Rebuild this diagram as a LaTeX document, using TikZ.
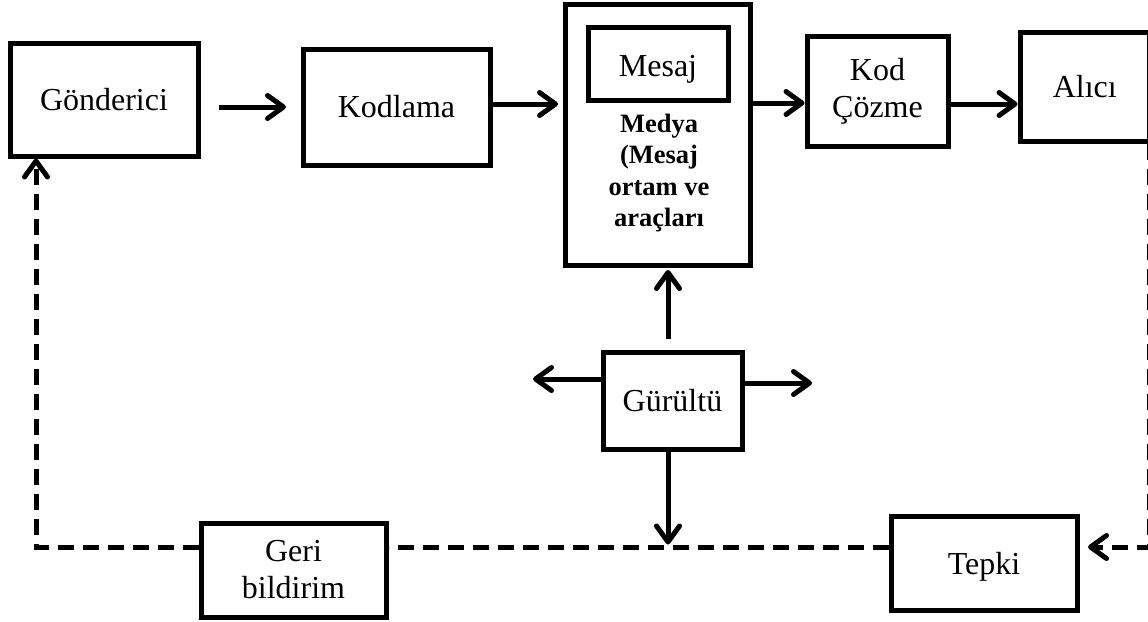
\documentclass[tikz,border=0pt]{standalone}
\usepackage{fontspec}
\setmainfont{Liberation Serif}
\usetikzlibrary{arrows.meta}
\begin{document}
\begin{tikzpicture}[x=1pt,y=-1pt,
  >={Straight Barb[length=16pt,width=23pt,round]},
  every node/.style={font=\fontsize{32}{37}\selectfont},
  blk/.style={draw, line width=5pt, inner sep=0pt, align=center},
  arr/.style={line width=5pt, ->},
  fb/.style={line width=5pt, dash pattern=on 16pt off 9pt},
  boldtxt/.style={font=\fontsize{26.5}{31.5}\selectfont\bfseries, align=center, inner sep=0pt},
]
\useasboundingbox (0,0) rectangle (1148,621);
\clip (0,0) rectangle (1148,621);
\fill[white] (0,0) rectangle (1148,621);

% boxes of the communication chain
\node[blk, minimum width=188pt, minimum height=113pt] (gond) at (104,99.5) {Gönderici};
\node[blk, minimum width=187pt, minimum height=116pt] (kod) at (396.5,107) {Kodlama};
\node[blk, minimum width=185pt, minimum height=261pt] (medya) at (658,135) {};
\node[blk, minimum width=140pt, minimum height=73pt, text height=33pt, text depth=6.7pt] (mesaj) at (658,63.5) {Mesaj};
\node[boldtxt] (medyatxt) at (659,173) {Medya\\(Mesaj\\ortam ve\\araçları};
\node[blk, minimum width=141pt, minimum height=110pt] (kc) at (877.5,91) {Kod\\Çözme};
\node[blk, minimum width=129.5pt, minimum height=109pt] (alici) at (1084.75,86.5) {Alıcı};
\node[blk, minimum width=139pt, minimum height=97pt] (gur) at (672.5,400.5) {Gürültü};
\node[blk, minimum width=185pt, minimum height=94pt] (geri) at (293.5,570) {Geri\\bildirim};
\node[blk, minimum width=186pt, minimum height=94pt, text depth=0pt] (tepki) at (984,563) {Tepki};

% free ends and corners
\coordinate (fbR) at (1149.5,547);
\coordinate (fbL) at (36,547);
\coordinate (nzL) at (533,379);
\coordinate (nzR) at (812,383);

% main flow
\draw[arr, shorten <=18pt, shorten >=14.5pt] (gond.east |- kod.west) -- (kod.west);
\draw[arr, shorten >=5pt] ([yshift=3pt]kod.east) -- ([yshift=3pt]kod.east -| medya.west);
\draw[arr] ([yshift=-12pt]kc.west -| medya.east) -- ([yshift=-12pt]kc.west);
\draw[arr] ([yshift=-13pt]kc.east) -- ([yshift=-13pt]kc.east -| alici.west);

% noise
\draw[arr, shorten <=10.5pt, shorten >=2pt] ([xshift=-4.5pt]gur.north) -- ([xshift=-4.5pt]gur.north |- medya.south);
\draw[arr] (gur.west |- nzL) -- (nzL);
\draw[arr] (gur.east |- nzR) -- (nzR);
\draw[arr, shorten >=2.5pt] ([xshift=-4.5pt]gur.south) -- ([xshift=-4.5pt]gur.south |- fbL);

% feedback loop
\draw[fb, ->, shorten >=8.5pt] (fbR |- alici.south) -- (fbR) -- (tepki.east |- fbR);
\draw[fb] (tepki.west |- fbR) -- (geri.east |- fbR);
\draw[fb, ->] (geri.west |- fbL) -- (fbL) -- (fbL |- gond.south);
\end{tikzpicture}
\end{document}
